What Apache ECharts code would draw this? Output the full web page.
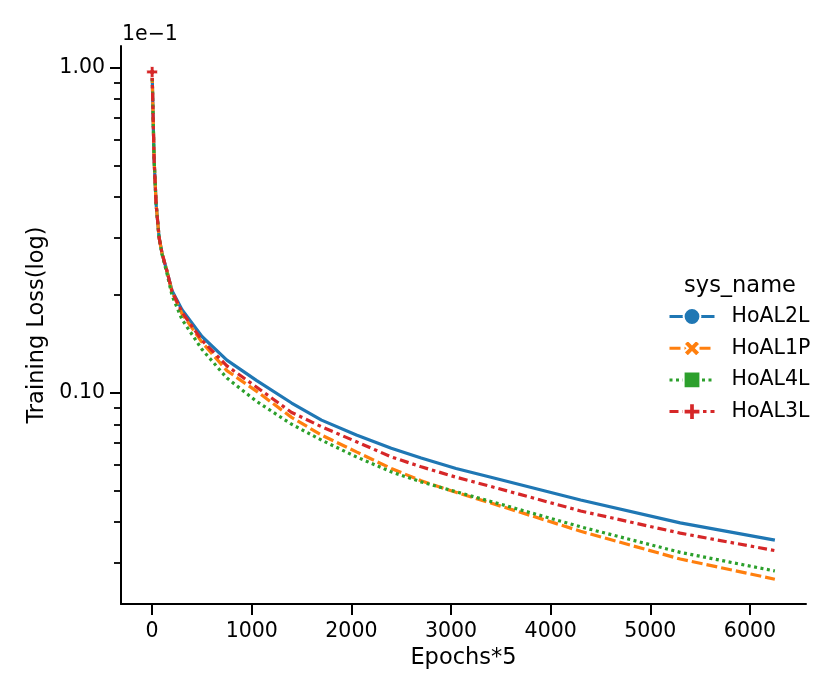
<!DOCTYPE html>
<html>
<head>
<meta charset="utf-8">
<title>Training Loss</title>
<script src="https://cdn.jsdelivr.net/npm/echarts@6/dist/echarts.min.js"></script>
<style>
	html, body { margin: 0; padding: 0; background: #fff; }
	#chart { width: 831px; height: 699px; }
</style>
</head>
<body>
<div id="chart"></div>
<script>
// x values (Epochs*5)
var epochs = [0, 10, 20, 40, 70, 100, 150, 200, 300, 500, 750, 1050, 1400, 1700, 2050, 2400, 2700, 3050, 3400, 4300, 5300, 6250];

var hoal2l = [0.097, 0.070, 0.052, 0.038, 0.030, 0.0268, 0.0236, 0.0206, 0.0180, 0.0149, 0.0126, 0.0109, 0.0093, 0.00824, 0.00741, 0.00675, 0.00630, 0.00585, 0.00550, 0.00468, 0.00398, 0.00352];
var hoal1p = [0.097, 0.070, 0.052, 0.038, 0.030, 0.0268, 0.0236, 0.0204, 0.0175, 0.0143, 0.0117, 0.0101, 0.0084, 0.00741, 0.00658, 0.00585, 0.00536, 0.00494, 0.00458, 0.00375, 0.00308, 0.00267];
var hoal4l = [0.097, 0.070, 0.052, 0.038, 0.030, 0.0266, 0.0232, 0.0199, 0.0168, 0.0136, 0.0111, 0.0094, 0.0080, 0.00715, 0.00635, 0.00571, 0.00532, 0.00496, 0.00463, 0.00387, 0.00323, 0.00283];
var hoal3l = [0.097, 0.070, 0.052, 0.038, 0.030, 0.0268, 0.0236, 0.0205, 0.0177, 0.0145, 0.0121, 0.0104, 0.0087, 0.00786, 0.00707, 0.00635, 0.00592, 0.00550, 0.00515, 0.00433, 0.00370, 0.00327];

var names  = ['HoAL2L', 'HoAL1P', 'HoAL4L', 'HoAL3L'];
var values = [hoal2l, hoal1p, hoal4l, hoal3l];

// tick labels
var xTicks      = [0, 1000, 2000, 3000, 4000, 5000, 6000];
var yTicks      = [0.01, 0.1];
var yMinorTicks = [0.003, 0.004, 0.005, 0.006, 0.007, 0.008, 0.009, 0.02, 0.03, 0.04, 0.05, 0.06, 0.07, 0.08, 0.09];

var colors  = ['#1f77b4', '#ff7f0e', '#2ca02c', '#d62728'];
var dashes  = ['solid', [11, 4], [3, 3.5], [9, 4, 3.5, 4]];
var markers = [
	'circle',
	'path://M0,2.5L2.5,0L5,2.5L7.5,0L10,2.5L7.5,5L10,7.5L7.5,10L5,7.5L2.5,10L0,7.5L2.5,5Z',
	'rect',
	'path://M3.3,0H6.7V3.3H10V6.7H6.7V10H3.3V6.7H0V3.3H3.3Z'
];

var font = 'DejaVu Sans';

var series = function() {
	var list = [];
	for (var i = 0; i < names.length; i++) {
		var data = [];
		for (var j = 0; j < epochs.length; j++) {
			//只有最上面一条在第一个点画标记
			if (j === 0 && i === names.length - 1) data.push([epochs[j], values[i][j]]);
			else data.push({ value: [epochs[j], values[i][j]], symbol: 'none' });
		}
		list.push({
			name       : names[i],
			type       : 'line',
			data       : data,
			symbol     : markers[i],
			symbolSize : 11,
			showSymbol : true,
			smooth     : false,
			lineStyle  : { color: colors[i], width: 3.2, type: dashes[i] },
			itemStyle  : { color: colors[i], borderColor: '#fff', borderWidth: 0.8 }
		});
	}
	return list;
}();

var option = {
	animation : false,
	backgroundColor : '#fff',
	grid : { left: 121, right: 25, top: 46, bottom: 95 },
	legend : {
		orient    : 'vertical',
		left      : 668,
		top       : 306,
		padding   : 0,
		itemWidth : 45,
		itemHeight: 21,
		itemGap   : 10.7,
		data      : names,
		lineStyle : { width: 3 },
		textStyle : { fontFamily: font, fontSize: 20.5, color: '#000', padding: [0, 0, 0, 12] }
	},
	xAxis : {
		type : 'value',
		min  : -312.5,
		max  : 6562.5,
		name : 'Epochs*5',
		nameLocation : 'middle',
		nameGap : 43,
		nameTextStyle : { fontFamily: font, fontSize: 22.5, color: '#000' },
		axisLine  : { show: true, onZero: false, lineStyle: { color: '#000', width: 2 } },
		axisTick  : { show: true, length: 11, customValues: xTicks, lineStyle: { color: '#000', width: 2 } },
		axisLabel : {
			customValues : xTicks,
			fontFamily : font, fontSize: 20.5, color: '#000', margin: 17,
			formatter : function(v) { return String(v); }
		},
		splitLine : { show: false }
	},
	yAxis : [{
		type : 'log',
		logBase : 10,
		min  : 0.00224,
		max  : 0.1166,
		position : 'left',
		name : 'Training Loss(log)',
		nameLocation : 'middle',
		nameGap : 71,
		nameTextStyle : { fontFamily: font, fontSize: 22.5, color: '#000' },
		axisLine  : { show: true, onZero: false, lineStyle: { color: '#000', width: 2 } },
		axisTick  : { show: true, length: 11, customValues: yTicks, lineStyle: { color: '#000', width: 2 } },
		axisLabel : {
			customValues : yTicks,
			fontFamily : font, fontSize: 20.5, color: '#000', margin: 16,
			formatter : function(v) { return (v / 0.1).toFixed(2); }
		},
		splitLine : { show: false }
	}, {
		// 次刻度
		type : 'log',
		logBase : 10,
		min  : 0.00224,
		max  : 0.1166,
		position : 'left',
		offset : 0,
		axisLine  : { show: false, onZero: false },
		axisTick  : { show: true, length: 7, customValues: yMinorTicks, lineStyle: { color: '#000', width: 1.8 } },
		axisLabel : { show: false },
		splitLine : { show: false }
	}],
	graphic : [
		{ type: 'text', x: 122, y: 35, style: { text: '1e\u22121', font: '20.5px "DejaVu Sans"', fill: '#000', verticalAlign: 'middle' } },
		{ type: 'text', x: 740, y: 286, style: { text: 'sys_name', font: '22.5px "DejaVu Sans"', fill: '#000', align: 'center', verticalAlign: 'middle' } }
	],
	series : series
};

var myChart = echarts.init(document.getElementById('chart'));
myChart.setOption(option);
</script>
</body>
</html>
